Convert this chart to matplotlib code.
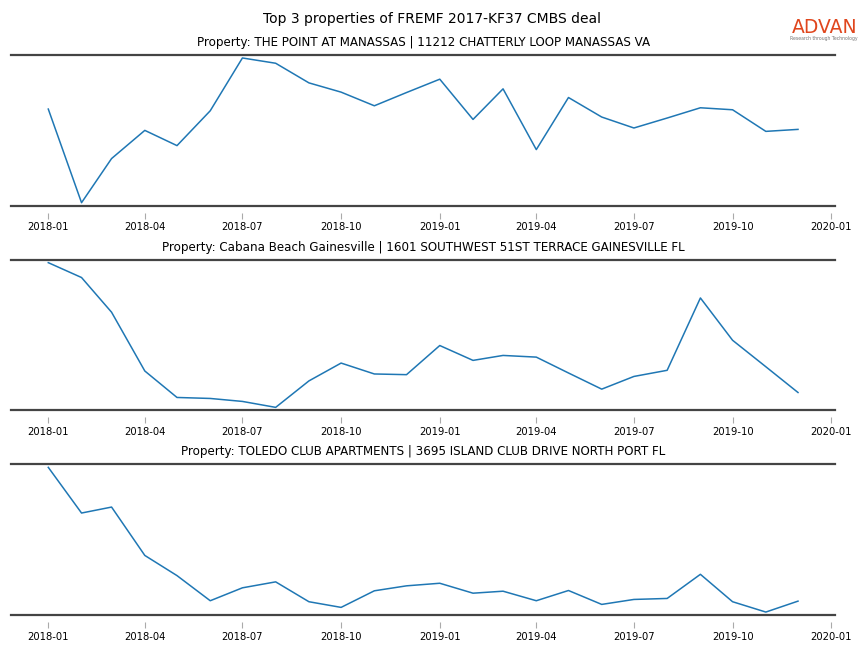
import matplotlib
matplotlib.use("Agg")
import matplotlib.pyplot as plt
import pandas as pd

# monthly dates, 2018-01 .. 2019-12
months = pd.date_range("2018-01-01", "2019-12-01", freq="MS")

titles = [
    "Property: THE POINT AT MANASSAS | 11212 CHATTERLY LOOP MANASSAS VA",
    "Property: Cabana Beach Gainesville | 1601 SOUTHWEST 51ST TERRACE GAINESVILLE FL",
    "Property: TOLEDO CLUB APARTMENTS | 3695 ISLAND CLUB DRIVE NORTH PORT FL",
]

# values (no y scale shown, relative units)
manassas = [96.7, 2.7, 47.0, 75.3, 60.0, 95.0, 148.0, 142.7, 123.0, 113.7, 100.0, 113.3,
            126.7, 86.3, 117.0, 56.0, 108.3, 88.7, 77.7, 87.7, 98.0, 96.0, 74.3, 76.3]
gainesville = [146.6, 131.6, 96.6, 37.3, 10.6, 9.6, 6.6, 0.6, 27.3, 45.3, 34.3, 33.6,
               63.0, 48.0, 53.0, 51.3, 35.3, 19.0, 31.8, 38.0, 111.0, 68.3, 41.6, 15.6]
north_port = [147.7, 101.7, 107.7, 59.0, 38.7, 13.4, 26.4, 32.4, 12.4, 6.7, 23.4, 28.4,
              31.0, 21.0, 23.0, 13.4, 23.7, 9.7, 14.7, 15.7, 40.0, 12.4, 2.0, 13.0]

series = [manassas, gainesville, north_port]

tick_dates = pd.date_range("2018-01-01", "2020-01-01", freq="3MS")
tick_labels = [d.strftime("%Y-%m") for d in tick_dates]

fig, axes = plt.subplots(3, 1, figsize=(8.64, 6.48), dpi=100)
plt.subplots_adjust(left=0.0125, right=0.967, top=0.915, bottom=0.051, hspace=0.36)

for ax, title, vals in zip(axes, titles, series):
    ax.plot(months, vals, color="#1f77b4", linewidth=1.1)
    ax.margins(y=0.02)
    ax.set_title(title, fontsize=8.6, pad=6.5)
    ax.set_yticks([])
    ax.spines["left"].set_visible(False)
    ax.spines["right"].set_visible(False)
    ax.spines["top"].set_color("#444444")
    ax.spines["top"].set_linewidth(1.6)
    # ticks sit a little below the dark bottom rule
    ax.spines["bottom"].set_position(("outward", 5))
    ax.spines["bottom"].set_visible(False)
    ax.plot([0, 1], [0, 0], transform=ax.transAxes, color="#444444", linewidth=1.6, clip_on=False)
    ax.set_xticks(tick_dates)
    ax.set_xticklabels(tick_labels)
    ax.tick_params(axis="x", labelsize=7.2, length=4, color="#aaaaaa", pad=3)

fig.suptitle("Top 3 properties of FREMF 2017-KF37 CMBS deal", fontsize=10, y=0.982)

# logo
fig.text(0.954, 0.957, "ADVAN", color="#e0461d", fontsize=13.5, ha="center", va="center")
fig.text(0.954, 0.941, "Research through Technology", color="#777777", fontsize=3.3, ha="center", va="center")

plt.savefig("out.png")
